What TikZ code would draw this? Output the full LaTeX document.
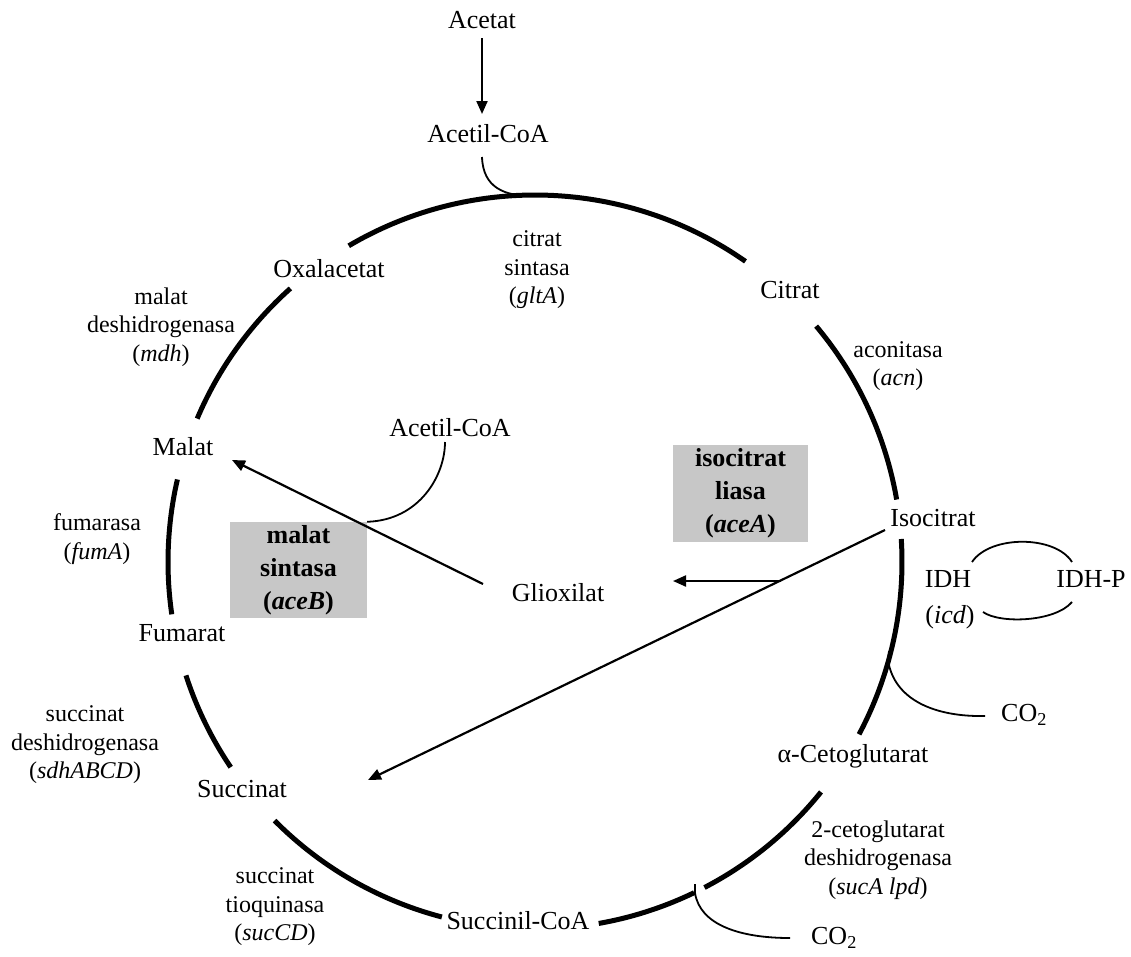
\documentclass[tikz,border=0pt]{standalone}
\usepackage{fontspec}
\setmainfont{Liberation Serif}
\usetikzlibrary{arrows.meta}
\begin{document}
\begin{tikzpicture}[x=1pt,y=-1pt,
  thickarc/.style={line width=5pt},
  thinline/.style={line width=1.8pt},
  arr/.style={line width=2.2pt,-{Triangle[length=13pt,width=11pt]}},
  lbl/.style={font=\fontsize{26}{28}\selectfont,inner sep=0pt},
  enz/.style={font=\fontsize{24}{28.5}\selectfont,align=center,inner sep=0pt},
  boxlbl/.style={fill=black!22,font=\fontsize{26}{33}\selectfont\bfseries,align=center,inner sep=0pt}]
\useasboundingbox (0,0) rectangle (1131,956);
\fill[white] (0,0) rectangle (1131,956);

\coordinate (O) at (535,562);
\newcommand{\cyclearc}[2]{\draw[thickarc] (O) ++({-#1}:367) arc[start angle={-#1}, end angle={-#2}, radius=367];}
\cyclearc{120.5}{55}
\cyclearc{40}{9.8}
\cyclearc{3.6}{-28}
\cyclearc{-38.8}{-62.5}
\cyclearc{-64.3}{-80}
\cyclearc{-104.7}{-135.2}
\cyclearc{-146}{-162}
\cyclearc{167}{188.2}
\cyclearc{131.8}{157}

% metabolites
\node[lbl] (acetat) at (482,20) {Acetat};
\node[lbl] (acoa1) at (488,134) {Acetil-CoA};
\node[lbl] (oxa) at (329,269) {Oxalacetat};
\node[lbl] (cit) at (790,290) {Citrat};
\node[lbl] (iso) at (933,518) {Isocitrat};
\node[lbl] (akg) at (853,756) {α-Cetoglutarat};
\node[lbl] (succoa) at (518,921) {Succinil-CoA};
\node[lbl] (succ) at (242,789) {Succinat};
\node[lbl] (fum) at (182,633) {Fumarat};
\node[lbl] (mal) at (183,447) {Malat};
\node[lbl] (glio) at (558,593) {Glioxilat};
\node[lbl] (acoa2) at (450,428) {Acetil-CoA};
\node[lbl] (idh) at (948,579) {IDH};
\node[lbl] (icd) at (950,617) {(\textit{icd})};
\node[lbl] (idhp) at (1091,579) {IDH-P};
\node[lbl] (co2a) at (1024,715) {CO\textsubscript{2}};
\node[lbl] (co2b) at (834,938) {CO\textsubscript{2}};

% enzymes
\node[enz] (cs) at (537,270) {citrat\\sintasa\\(\textit{gltA})};
\node[enz] (acn) at (898,366) {aconitasa\\(\textit{acn})};
\node[enz] (mdh) at (161,327) {malat\\deshidrogenasa\\(\textit{mdh})};
\node[enz] (fuma) at (97,539) {fumarasa\\(\textit{fumA})};
\node[enz] (sdh) at (85,745) {succinat\\deshidrogenasa\\(\textit{sdhABCD})};
\node[enz] (suc) at (275,907) {succinat\\tioquinasa\\(\textit{sucCD})};
\node[enz] (kgdh) at (878,860) {2-cetoglutarat\\deshidrogenasa\\(\textit{sucA lpd})};

% shaded enzyme boxes
\node[boxlbl,minimum width=135pt,minimum height=97pt] (icl) at (740.5,493.5) {isocitrat\\liasa\\(\textbf{\textit{aceA}})};
\node[boxlbl,minimum width=137pt,minimum height=96pt] (ms) at (298.5,570) {malat\\sintasa\\(\textbf{\textit{aceB}})};

% connectors
\coordinate (acA) at (482,38);
\coordinate (acB) at (482,114);
\draw[arr] (acA) -- (acB);
\coordinate (acC) at (482,157);
\coordinate (acD) at (532,196);
\draw[thinline] (acC) .. controls (483,188) and (505,196) .. (acD);

\coordinate (gA) at (483,584);
\coordinate (malTip) at (232,460);
\draw[arr] (gA) -- (malTip);
\coordinate (aC) at (445,442);
\draw[thinline] (aC) .. controls (445,475) and (420,520) .. (ms.north east);

\coordinate (isoA) at (885,530);
\coordinate (succTip) at (368,780);
\draw[arr] (isoA) -- (succTip);
\coordinate (gB) at (781,581);
\coordinate (glioTip) at (673,581);
\draw[arr] (gB) -- (glioTip);

\coordinate (idhA) at (972,562);
\coordinate (idhB) at (1072,562);
\coordinate (idhC) at (1072,602);
\coordinate (idhD) at (983,612);
\draw[thinline] (idhA) .. controls (990,535) and (1055,535) .. (idhB);
\draw[thinline] (idhC) .. controls (1055,622) and (1000,624) .. (idhD);

\coordinate (jA) at (889,651);
\coordinate (jA2) at (888,660);
\coordinate (co2aE) at (985,716);
\draw[thinline] (jA) -- (jA2) .. controls (894,700) and (935,717) .. (co2aE);
\coordinate (jB) at (695,884);
\coordinate (jB2) at (695,893);
\coordinate (co2bE) at (790,938);
\draw[thinline] (jB) -- (jB2) .. controls (700,925) and (740,938) .. (co2bE);
\end{tikzpicture}
\end{document}
